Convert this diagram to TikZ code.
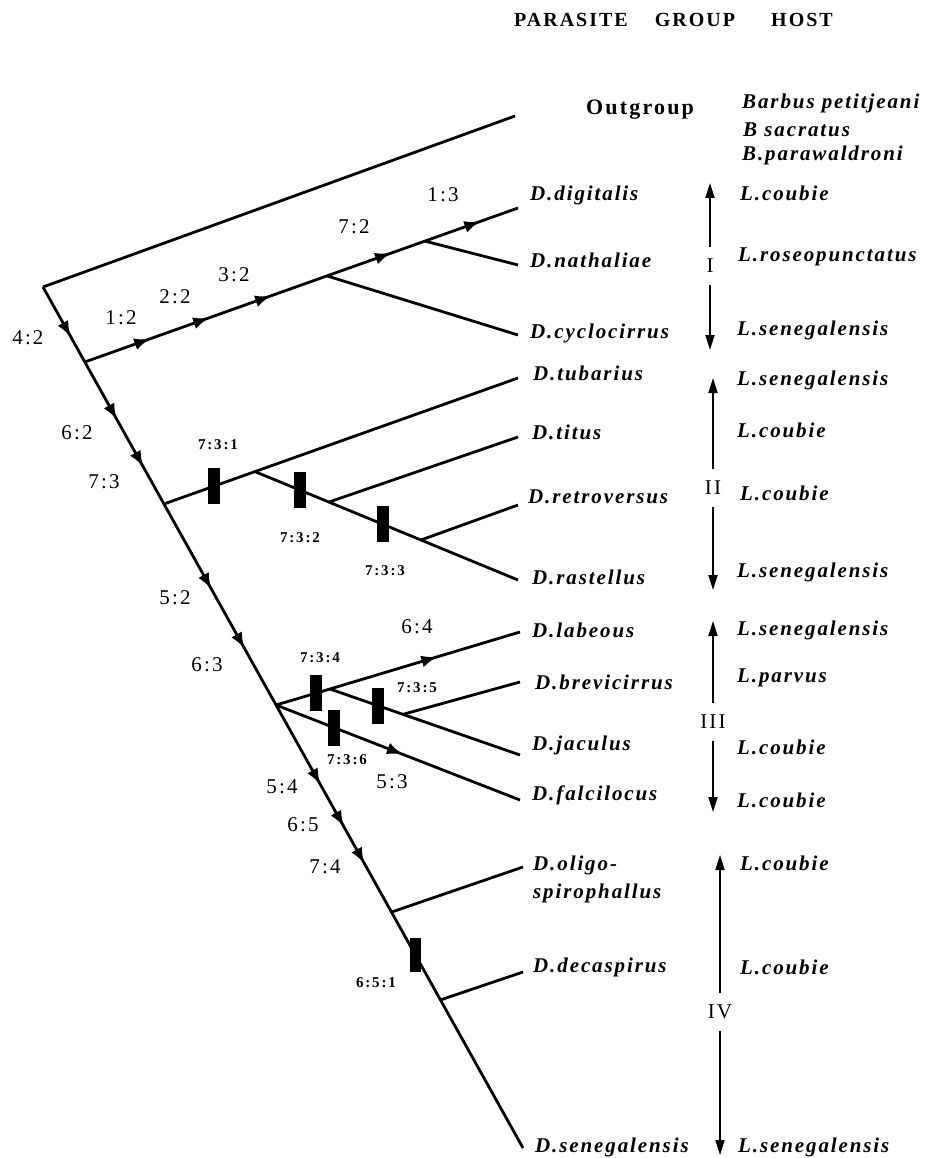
\documentclass[tikz,border=0pt]{standalone}
\usepackage{fontspec}
\setmainfont{Liberation Serif}
\newfontfamily\spfont{Liberation Serif}[LetterSpace=9]
\newfontfamily\nmfont{Liberation Serif}[LetterSpace=10]
\newfontfamily\smfont{Liberation Serif}[LetterSpace=12]
\usetikzlibrary{arrows.meta,decorations.markings,calc}
\newcommand\mtip{\arrow{Latex[length=16pt,width=12pt]}}
\begin{document}
\begin{tikzpicture}[x=1pt,y=-1pt,
  limb/.style={line width=2.8pt},
  sp/.style={anchor=west,inner sep=0pt,font=\spfont\bfseries\itshape\fontsize{21}{24}\selectfont},
  host/.style={anchor=west,inner sep=0pt,font=\spfont\bfseries\itshape\fontsize{21}{24}\selectfont},
  num/.style={inner sep=0pt,font=\nmfont\fontsize{21}{24}\selectfont},
  hdr/.style={inner sep=0pt,font=\nmfont\bfseries\fontsize{20}{24}\selectfont},
  sm/.style={inner sep=0pt,font=\smfont\bfseries\fontsize{15}{17}\selectfont},
  mbar/.style={fill=black,minimum width=12pt,minimum height=36pt,inner sep=0pt},
  grplab/.style={inner sep=0pt,minimum height=38pt,font=\nmfont\fontsize{21}{24}\selectfont},
  grp/.style={line width=1.8pt,-{Triangle[length=15pt,width=9pt]}},
]
\useasboundingbox (0,0) rectangle (943,1158);

% ---------- header ----------
\node[hdr] (hpar) at (571,20) {PARASITE};
\node[hdr] (hgrp) at (695,20) {GROUP};
\node[hdr] (hhost) at (802,20) {HOST};

% ---------- key points ----------
\coordinate (root) at (43,287);
\coordinate (tend) at (523,1148);
\coordinate (outg) at (515,116);
\coordinate (gIb) at ($(root)!0.0871!(tend)$);
\coordinate (gIIb) at ($(root)!0.252!(tend)$);
\coordinate (gIIIb) at ($(root)!0.4855!(tend)$);
\coordinate (fN) at ($(root)!0.726!(tend)$);
\coordinate (gN) at ($(root)!0.828!(tend)$);

% group I
\coordinate (eDig) at (518,208);
\coordinate (eNat) at (518,265);
\coordinate (eCyc) at (518,335);
\coordinate (aN) at ($(gIb)!0.559!(eDig)$);
\coordinate (bN) at ($(gIb)!0.785!(eDig)$);
% group II
\coordinate (eTub) at (518,378);
\coordinate (eTit) at (518,437);
\coordinate (eRet) at (518,505);
\coordinate (eRas) at (518,580);
\coordinate (cN) at ($(gIIb)!0.257!(eTub)$);
\coordinate (dN) at ($(cN)!0.281!(eRas)$);
\coordinate (eN) at ($(cN)!0.631!(eRas)$);
% group III
\coordinate (hN) at (330,689);
\coordinate (eLab) at (520,632);
\coordinate (eBre) at (520,682);
\coordinate (eJac) at (520,755);
\coordinate (eFal) at (520,800);
\coordinate (iN) at ($(hN)!0.384!(eJac)$);
% group IV
\coordinate (eOli) at (523,867);
\coordinate (eDec) at (523,972);

% ---------- branches ----------
\draw[limb] (root) -- (outg);
\draw[limb,postaction={decorate},decoration={markings,
  mark=at position 0.058 with {\mtip},
  mark=at position 0.154 with {\mtip},
  mark=at position 0.209 with {\mtip},
  mark=at position 0.351 with {\mtip},
  mark=at position 0.420 with {\mtip},
  mark=at position 0.578 with {\mtip},
  mark=at position 0.627 with {\mtip},
  mark=at position 0.670 with {\mtip}}] (root) -- (tend);
\draw[limb,postaction={decorate},decoration={markings,
  mark=at position 0.151 with {\mtip},
  mark=at position 0.287 with {\mtip},
  mark=at position 0.430 with {\mtip},
  mark=at position 0.707 with {\mtip},
  mark=at position 0.913 with {\mtip}}] (gIb) -- (eDig);
\draw[limb] (bN) -- (eNat);
\draw[limb] (aN) -- (eCyc);

\draw[limb] (gIIb) -- (eTub);
\draw[limb] (cN) -- (eRas);
\draw[limb] (dN) -- (eTit);
\draw[limb] (eN) -- (eRet);

\draw[limb] (gIIIb) -- (hN);
\draw[limb,postaction={decorate},decoration={markings,
  mark=at position 0.565 with {\mtip}}] (hN) -- (eLab);
\draw[limb] (hN) -- (eJac);
\draw[limb] (iN) -- (eBre);
\draw[limb,postaction={decorate},decoration={markings,
  mark=at position 0.52 with {\mtip}}] (gIIIb) -- (eFal);

\draw[limb] (fN) -- (eOli);
\draw[limb] (gN) -- (eDec);

% ---------- bars ----------
\node[mbar] (b731) at ($(gIIb)!0.141!(eTub)$) {};
\node[mbar] (b732) at ($(cN)!0.171!(eRas)$) {};
\node[mbar] (b733) at ($(cN)!0.487!(eRas)$) {};
\node[mbar] (b734) at ($(gIIIb)!0.74!(hN)$) {};
\node[mbar] (b735) at ($(hN)!0.253!(eJac)$) {};
\node[mbar] (b736) at ($(gIIIb)!0.238!(eFal)$) {};
\node[mbar,minimum width=11pt,minimum height=34pt] (b651) at ($(root)!0.776!(tend)$) {};

% ---------- character labels ----------
\node[num] (l42) at (28,338) {4:2};
\node[num] (l12) at (121,318) {1:2};
\node[num] (l22) at (175,297) {2:2};
\node[num] (l32) at (234,275) {3:2};
\node[num] (l72) at (354,227) {7:2};
\node[num] (l13) at (443,195) {1:3};
\node[num] (l62) at (77,433) {6:2};
\node[num] (l73) at (104,482) {7:3};
\node[num] (l52) at (175,598) {5:2};
\node[num] (l63) at (207,665) {6:3};
\node[num] (l54) at (282,787) {5:4};
\node[num] (l65) at (303,825) {6:5};
\node[num] (l74) at (325,867) {7:4};
\node[num] (l64) at (417,627) {6:4};
\node[num] (l53) at (392,782) {5:3};

\node[sm] (s731) at (218,445) {7:3:1};
\node[sm] (s732) at (300,538) {7:3:2};
\node[sm] (s733) at (385,571) {7:3:3};
\node[sm] (s734) at (320,658) {7:3:4};
\node[sm] (s735) at (417,688) {7:3:5};
\node[sm] (s736) at (347,760) {7:3:6};
\node[sm] (s651) at (376,983) {6:5:1};

% ---------- parasites ----------
\node[hdr,font=\nmfont\bfseries\fontsize{22}{24}\selectfont] (pout) at (640,110) {Outgroup};
\node[sp] (pdig) at (530,195) {D.digitalis};
\node[sp] (pnat) at (530,260) {D.nathaliae};
\node[sp] (pcyc) at (530,333) {D.cyclocirrus};
\node[sp] (ptub) at (533,373) {D.tubarius};
\node[sp] (ptit) at (532,432) {D.titus};
\node[sp] (pret) at (528,497) {D.retroversus};
\node[sp] (pras) at (532,577) {D.rastellus};
\node[sp] (plab) at (532,630) {D.labeous};
\node[sp] (pbre) at (535,682) {D.brevicirrus};
\node[sp] (pjac) at (532,745) {D.jaculus};
\node[sp] (pfal) at (532,795) {D.falcilocus};
\node[sp] (poli) at (533,865) {D.oligo-};
\node[sp] (poli2) at (533,893) {spirophallus};
\node[sp] (pdec) at (533,967) {D.decaspirus};
\node[sp] (psen) at (535,1147) {D.senegalensis};

% ---------- hosts ----------
\node[host] (h1) at (742,103) {Barbus petitjeani};
\node[host] (h2) at (743,130) {B sacratus};
\node[host] (h3) at (742,155) {B.parawaldroni};
\node[host] (h4) at (740,193) {L.coubie};
\node[host] (h5) at (738,257) {L.roseopunctatus};
\node[host] (h6) at (737,330) {L.senegalensis};
\node[host] (h7) at (737,380) {L.senegalensis};
\node[host] (h8) at (737,430) {L.coubie};
\node[host] (h9) at (740,493) {L.coubie};
\node[host] (h10) at (737,572) {L.senegalensis};
\node[host] (h11) at (737,630) {L.senegalensis};
\node[host] (h12) at (737,678) {L.parvus};
\node[host] (h13) at (737,747) {L.coubie};
\node[host] (h14) at (737,800) {L.coubie};
\node[host] (h15) at (740,863) {L.coubie};
\node[host] (h16) at (740,967) {L.coubie};
\node[host] (h17) at (738,1147) {L.senegalensis};

% ---------- group arrows ----------
\node[grplab] (gI) at (710,266) {I};
\coordinate (gIup) at (710,183);
\coordinate (gIdn) at (710,350);
\draw[grp] (gI.north) -- (gIup);
\draw[grp] (gI.south) -- (gIdn);

\node[grplab] (gII) at (713,488) {II};
\coordinate (gIIup) at (713,378);
\coordinate (gIIdn) at (713,590);
\draw[grp] (gII.north) -- (gIIup);
\draw[grp] (gII.south) -- (gIIdn);

\node[grplab] (gIII) at (713,722) {III};
\coordinate (gIIIup) at (713,621);
\coordinate (gIIIdn) at (713,812);
\draw[grp] (gIII.north) -- (gIIIup);
\draw[grp] (gIII.south) -- (gIIIdn);

\node[grplab] (gIV) at (720,1012) {IV};
\coordinate (gIVup) at (720,855);
\coordinate (gIVdn) at (720,1155);
\draw[grp] (gIV.north) -- (gIVup);
\draw[grp] (gIV.south) -- (gIVdn);
\end{tikzpicture}
\end{document}
